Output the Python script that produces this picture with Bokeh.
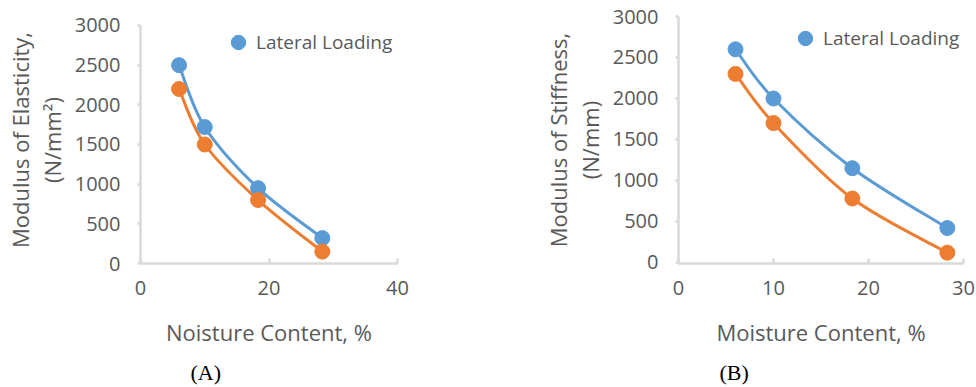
from bokeh.plotting import figure
from bokeh.layouts import row
from bokeh.models import Range1d, FixedTicker, Legend, LegendItem, Title, ColumnDataSource
from bokeh.embed import file_html
from bokeh.resources import INLINE

# ---- data ----
moisture = [6, 10, 18.3, 28.3]
a_lateral = [2500, 1720, 950, 320]
a_second = [2200, 1500, 800, 150]
b_lateral = [2600, 2000, 1150, 420]
b_second = [2300, 1700, 780, 120]
a_xticks = [0, 20, 40]
b_xticks = [0, 10, 20, 30]
y_ticks = [0, 500, 1000, 1500, 2000, 2500, 3000]

BLUE = "#5B9BD5"
ORANGE = "#ED7D31"
GREY_TXT = "#595959"
AXIS_C = "#D9D9D9"
FONT = "Open Sans"


def smooth_segments(xs, ys, t=1.0 / 6.0):
    """Bezier segments for an Excel-style smoothed line through the points."""
    n = len(xs)
    d = dict(x0=[], y0=[], x1=[], y1=[], cx0=[], cy0=[], cx1=[], cy1=[])
    for i in range(n - 1):
        a = max(i - 1, 0)
        b = min(i + 2, n - 1)
        d["x0"].append(xs[i]); d["y0"].append(ys[i])
        d["x1"].append(xs[i + 1]); d["y1"].append(ys[i + 1])
        d["cx0"].append(xs[i] + (xs[i + 1] - xs[a]) * t)
        d["cy0"].append(ys[i] + (ys[i + 1] - ys[a]) * t)
        d["cx1"].append(xs[i + 1] - (xs[b] - xs[i]) * t)
        d["cy1"].append(ys[i + 1] - (ys[b] - ys[i]) * t)
    return ColumnDataSource(d)


def panel(xs, s_lat, s_sec, xmax, xticks, ylo, yhi, ylabel, xlabel, caption,
          fw, fh, left, right, top, bottom, leg_loc, cap_offset):
    p = figure(frame_width=fw, frame_height=fh,
               x_range=Range1d(0, xmax), y_range=Range1d(ylo, yhi),
               output_backend="svg", toolbar_location=None,
               min_border_left=left, min_border_right=right,
               min_border_top=top, min_border_bottom=bottom)
    p.outline_line_color = None
    p.grid.visible = False
    p.background_fill_color = "white"
    p.border_fill_color = "white"

    for ax in (p.xaxis[0], p.yaxis[0]):
        ax.axis_line_color = AXIS_C
        ax.axis_line_width = 2.5
        ax.major_tick_line_color = AXIS_C
        ax.major_tick_line_width = 2.5
        ax.minor_tick_line_color = None
        ax.major_label_text_font = FONT
        ax.major_label_text_font_size = "20px"
        ax.major_label_text_color = GREY_TXT
        ax.axis_label_text_font = FONT
        ax.axis_label_text_font_size = "22px"
        ax.axis_label_text_color = GREY_TXT
        ax.axis_label_text_font_style = "normal"

    p.xaxis.ticker = FixedTicker(ticks=xticks)
    p.yaxis.ticker = FixedTicker(ticks=y_ticks)
    p.yaxis.bounds = (y_ticks[0], y_ticks[-1])
    p.xaxis.major_tick_in = 5
    p.xaxis.major_tick_out = 0
    p.yaxis.major_tick_in = 0
    p.yaxis.major_tick_out = 3
    p.xaxis.major_label_standoff = 17
    p.yaxis.major_label_standoff = 17
    p.xaxis.axis_label = xlabel
    p.yaxis.axis_label = ylabel
    p.xaxis.axis_label_standoff = 19
    p.yaxis.axis_label_standoff = 5
    p.yaxis.axis_label_text_line_height = 1.05

    p.bezier(x0="x0", y0="y0", x1="x1", y1="y1", cx0="cx0", cy0="cy0",
             cx1="cx1", cy1="cy1", source=smooth_segments(xs, s_lat),
             line_color=BLUE, line_width=3)
    p.bezier(x0="x0", y0="y0", x1="x1", y1="y1", cx0="cx0", cy0="cy0",
             cx1="cx1", cy1="cy1", source=smooth_segments(xs, s_sec),
             line_color=ORANGE, line_width=3)
    r_lat = p.scatter(xs, s_lat, size=15, fill_color=BLUE, line_color=BLUE)
    p.scatter(xs, s_sec, size=15, fill_color=ORANGE, line_color=ORANGE)

    leg = Legend(items=[LegendItem(label="Lateral Loading", renderers=[r_lat])],
                 location=leg_loc, padding=0, margin=0, spacing=0,
                 glyph_width=36, glyph_height=36, label_standoff=0,
                 border_line_alpha=0, background_fill_alpha=0,
                 label_text_font=FONT, label_text_font_size="19px",
                 label_text_color=GREY_TXT)
    p.add_layout(leg)

    p.add_layout(Title(text=caption, align="left", offset=cap_offset,
                       text_font="Liberation Serif", text_font_size="22px",
                       text_font_style="normal", text_color="#000000",
                       standoff=16), "below")
    return p


# both frames span canvas rows 16..263; the y axis line is bounded to 0..3000
pa = panel(moisture, a_lateral, a_second, 40, a_xticks, 0, 3113.4,
           "Modulus of Elasticity,\n(N/mm²)", "Noisture Content, %", "(A)",
           257, 247, 140, 136, 16, 124, (80, 203), 50)
pb = panel(moisture, b_lateral, b_second, 30, b_xticks, -12.2, 3000,
           "Modulus of Stiffness,\n(N/mm)", "Moisture Content, %", "(B)",
           285, 247, 145, 13, 16, 124, (109, 207), 41)

layout = row(pa, pb)
open("out.html", "w").write(file_html(layout, INLINE))
